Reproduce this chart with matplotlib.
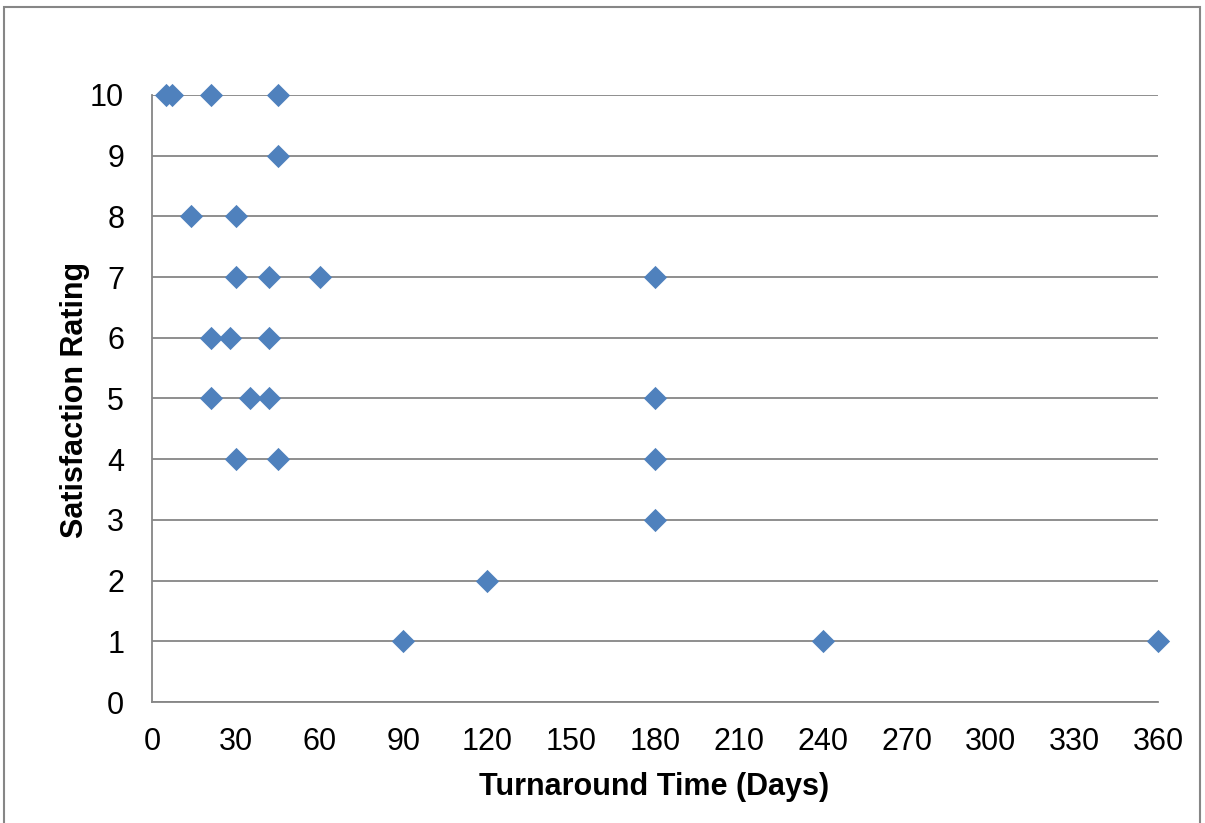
import matplotlib.pyplot as plt
from matplotlib.patches import Rectangle

plt.rcParams['font.family'] = ['Liberation Sans', 'DejaVu Sans']

# turnaround time (days) and satisfaction rating
days = [5, 7, 21, 45,
        45,
        14, 30,
        30, 42, 60, 180,
        21, 28, 42,
        21, 35, 42, 180,
        30, 45, 180,
        180,
        120,
        90, 240, 360]
rating = [10, 10, 10, 10,
          9,
          8, 8,
          7, 7, 7, 7,
          6, 6, 6,
          5, 5, 5, 5,
          4, 4, 4,
          3,
          2,
          1, 1, 1]

xticks = list(range(0, 361, 30))
yticks = list(range(0, 11))

fig = plt.figure(figsize=(12.05, 8.23), dpi=100)
ax = fig.add_axes([0.1261, 0.147, 0.835, 0.7376])

ax.scatter(days, rating, marker='D', s=140, color='#4F81BD', zorder=3,
           clip_on=False, linewidths=0)

ax.set_xlim(0, 360)
ax.set_ylim(0, 10)
ax.set_xticks(xticks)
ax.set_yticks(yticks)
ax.tick_params(length=0, labelsize=22)
ax.tick_params(axis='x', pad=18)
ax.tick_params(axis='y', pad=20)
ax.yaxis.grid(True, color='#868686', linewidth=1.3)
ax.set_axisbelow(True)
for s in ['top', 'right']:
    ax.spines[s].set_visible(False)
for s in ['left', 'bottom']:
    ax.spines[s].set_color('#868686')
    ax.spines[s].set_linewidth(1.3)

# axis titles placed by their baselines, in figure pixels
fig.text(654.5 / 1205, 1 - 795 / 823, 'Turnaround Time (Days)', fontsize=22,
         fontweight='bold', ha='center', va='baseline')
fig.text(83 / 1205, 1 - 400 / 823, 'Satisfaction Rating', fontsize=22,
         fontweight='bold', ha='center', va='baseline', rotation=90,
         rotation_mode='anchor')

# outer chart border
fig.patches.append(Rectangle((0.003, -0.05), 0.993, 1.041, transform=fig.transFigure,
                             fill=False, edgecolor='#868686', linewidth=1.5))

fig.savefig('out.png', dpi=100)
